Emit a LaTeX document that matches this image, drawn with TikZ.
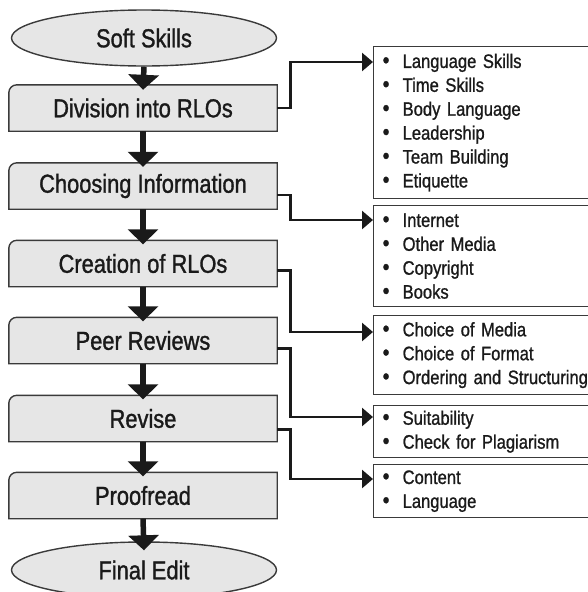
\documentclass[tikz,border=0pt]{standalone}
\usepackage{fontspec}
\setmainfont{Liberation Sans}
\newfontfamily\mainf{Liberation Sans}[FakeStretch=0.84,FakeBold=1.2]
\newfontfamily\listf{Liberation Sans}[FakeStretch=0.85,FakeBold=1]
\usetikzlibrary{arrows.meta,shapes.geometric,backgrounds}
\definecolor{boxfill}{HTML}{E6E6E6}
\definecolor{edge}{HTML}{3A3A3A}
\definecolor{ink}{HTML}{1A1A1A}
\newcommand\bul{\makebox[20pt][l]{\fontsize{23}{23.9}\selectfont •}}
\tikzset{
  mainbox/.style={minimum width=268pt, minimum height=46pt, inner sep=0pt,
    font=\mainf\fontsize{26}{28}\selectfont, text=ink},
  boxline/.style={draw=edge, line width=1.4pt, fill=boxfill},
  oval/.style={ellipse, draw=edge, line width=1.4pt, fill=boxfill,
    minimum width=265pt, minimum height=56pt, inner sep=0pt,
    font=\mainf\fontsize{26}{28}\selectfont, text=ink},
  flow/.style={draw=ink, line width=5.5pt, -{Triangle[width=30pt,length=15pt]}},
  conn/.style={draw=ink, line width=2.6pt, -{Triangle[width=18pt,length=11pt]}},
  listbox/.style={draw=edge, line width=1.3pt, fill=white, anchor=north west,
    minimum width=240pt, text width=222pt, inner xsep=9pt, inner ysep=0pt, align=left,
    font=\listf\fontsize{19.5}{23.9}\selectfont, text=ink},
  rlbox/.style={boxline}
}
\begin{document}
\begin{tikzpicture}[x=1pt,y=-1pt]
\useasboundingbox (0,0) rectangle (587,592);

% main column
\node[oval] (ss) at (144,38) {Soft Skills};
\node[mainbox] (div) at (143,108) {Division into RLOs};
\node[mainbox] (ci) at (143,186) {Choosing Information};
\node[mainbox] (cr) at (143,263.5) {Creation of RLOs};
\node[mainbox] (pr) at (143,340.5) {Peer Reviews};
\node[mainbox] (rv) at (143,418.5) {Revise};
\node[mainbox] (pf) at (143,495.5) {Proofread};
\node[oval] (fe) at (144,570) {Final Edit};

\begin{scope}[on background layer]
\foreach \n in {div,ci,cr,pr,rv,pf}{
  \path[rlbox] (\n.south west) -- ([yshift=-8pt]\n.north west)
    arc[start angle=180,end angle=90,radius=8pt] -- (\n.north east)
    -- (\n.south east) -- cycle;
}
\end{scope}

% list boxes
\node[listbox, minimum height=152pt] (l1) at (373,46)
  {\bul Language Skills\\ \bul Time Skills\\ \bul Body Language\\ \bul Leadership\\ \bul Team Building\\ \bul Etiquette};
\node[listbox, minimum height=101pt] (l2) at (373,205)
  {\bul Internet\\ \bul Other Media\\ \bul Copyright\\ \bul Books};
\node[listbox, minimum height=79pt] (l3) at (373,315)
  {\bul Choice of Media\\ \bul Choice of Format\\ \bul Ordering and Structuring};
\node[listbox, minimum height=52pt] (l4) at (373,405)
  {\bul Suitability\\ \bul Check for Plagiarism};
\node[listbox, minimum height=53pt] (l5) at (373,464)
  {\bul Content\\ \bul Language};

% flow arrows
\draw[flow] (ss.south) -- ([yshift=-5pt]div.north);
\draw[flow] (div.south) -- ([yshift=-4pt]ci.north);
\draw[flow] (ci.south) -- ([yshift=-4pt]cr.north);
\draw[flow] (cr.south) -- ([yshift=-4pt]pr.north);
\draw[flow] (pr.south) -- ([yshift=-4pt]rv.north);
\draw[flow] (rv.south) -- ([yshift=-4pt]pf.north);
\draw[flow] (pf.south) -- ([yshift=-9pt]fe.north);

% side connectors
\coordinate (t1) at (373,62);
\coordinate (t2) at (373,220);
\coordinate (t3) at (373,332);
\coordinate (t4) at (373,417);
\coordinate (t5) at (373,479);
\draw[conn] (div.east) -- ++(13,0) |- (t1);
\draw[conn] ([yshift=-9pt]ci.east) -- ++(13,0) |- (t2);
\draw[conn] ([yshift=-7pt]cr.east) -- ++(13,0) |- (t3);
\draw[conn] ([yshift=-8pt]pr.east) -- ++(13,0) |- (t4);
\draw[conn] ([yshift=-11pt]rv.east) -- ++(13,0) |- (t5);
\end{tikzpicture}
\end{document}
